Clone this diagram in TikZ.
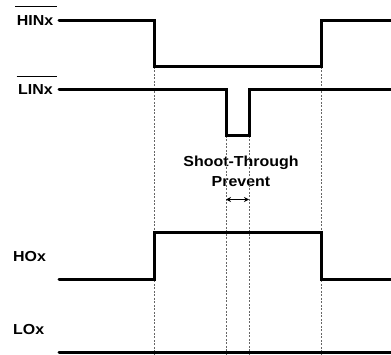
\documentclass[tikz,border=0pt]{standalone}
\usepackage{fontspec}
\setmainfont[FakeStretch=1.1]{Liberation Sans}
\usetikzlibrary{arrows.meta}
\begin{document}
\begin{tikzpicture}[x=1pt,y=-1pt,
  sig/.style={line width=3pt,line cap=round,line join=miter},
  guide/.style={gray!80!black,line width=0.8pt,dash pattern=on 2pt off 1.5pt},
  lbl/.style={font=\bfseries\fontsize{14.5}{20}\selectfont,inner sep=0pt},
  bar/.style={line width=1.3pt}]
\useasboundingbox (0,0) rectangle (391,355);
% labels
\node[lbl,anchor=east] (hin) at (53.5,21) {HINx};
\node[lbl,anchor=east] (lin) at (53,90) {LINx};
\node[lbl,anchor=west] (ho) at (13,257) {HOx};
\node[lbl,anchor=west] (lo) at (13,330) {LOx};
\draw[bar] ([yshift=9pt,xshift=-1.5pt]hin.north west) -- ([yshift=9pt,xshift=3pt]hin.north east);
\draw[bar] ([yshift=8.5pt,xshift=-1.5pt]lin.north west) -- ([yshift=8.5pt,xshift=4pt]lin.north east);
\node[lbl,align=center] (stp) at (241,171) {Shoot-Through\\Prevent};
% waveform corners
\coordinate (h0) at (59,21);  \coordinate (h1) at (154,21); \coordinate (h2) at (154,67);
\coordinate (h3) at (321,67); \coordinate (h4) at (321,21); \coordinate (h5) at (393,21);
\coordinate (l0) at (59,90);  \coordinate (l1) at (226,90); \coordinate (l2) at (226,136);
\coordinate (l3) at (249,136); \coordinate (l4) at (249,90); \coordinate (l5) at (393,90);
\coordinate (o0) at (59,280); \coordinate (o1) at (154,280); \coordinate (o2) at (154,233);
\coordinate (o3) at (321,233); \coordinate (o4) at (321,280); \coordinate (o5) at (393,280);
\coordinate (w0) at (59,353); \coordinate (w5) at (393,353);
\coordinate (d1) at (154,355); \coordinate (d2) at (226,355); \coordinate (d3) at (249,355); \coordinate (d4) at (321,355);
% guides
\draw[guide] (h2) -- (d1);
\draw[guide] (h3) -- (d4);
\draw[guide] (l2) -- (d2);
\draw[guide] (l3) -- (d3);
% signals
\draw[sig] (h0) -- (h1) -- (h2) -- (h3) -- (h4) -- (h5);
\draw[sig] (l0) -- (l1) -- (l2) -- (l3) -- (l4) -- (l5);
\draw[sig] (o0) -- (o1) -- (o2) -- (o3) -- (o4) -- (o5);
\draw[sig] (w0) -- (w5);
% arrow
\coordinate (a1) at (226,199.5); \coordinate (a2) at (249,199.5);
\draw[line width=1pt,{Stealth[length=5pt,width=5pt]}-{Stealth[length=5pt,width=5pt]}] (a1) -- (a2);
\end{tikzpicture}
\end{document}
